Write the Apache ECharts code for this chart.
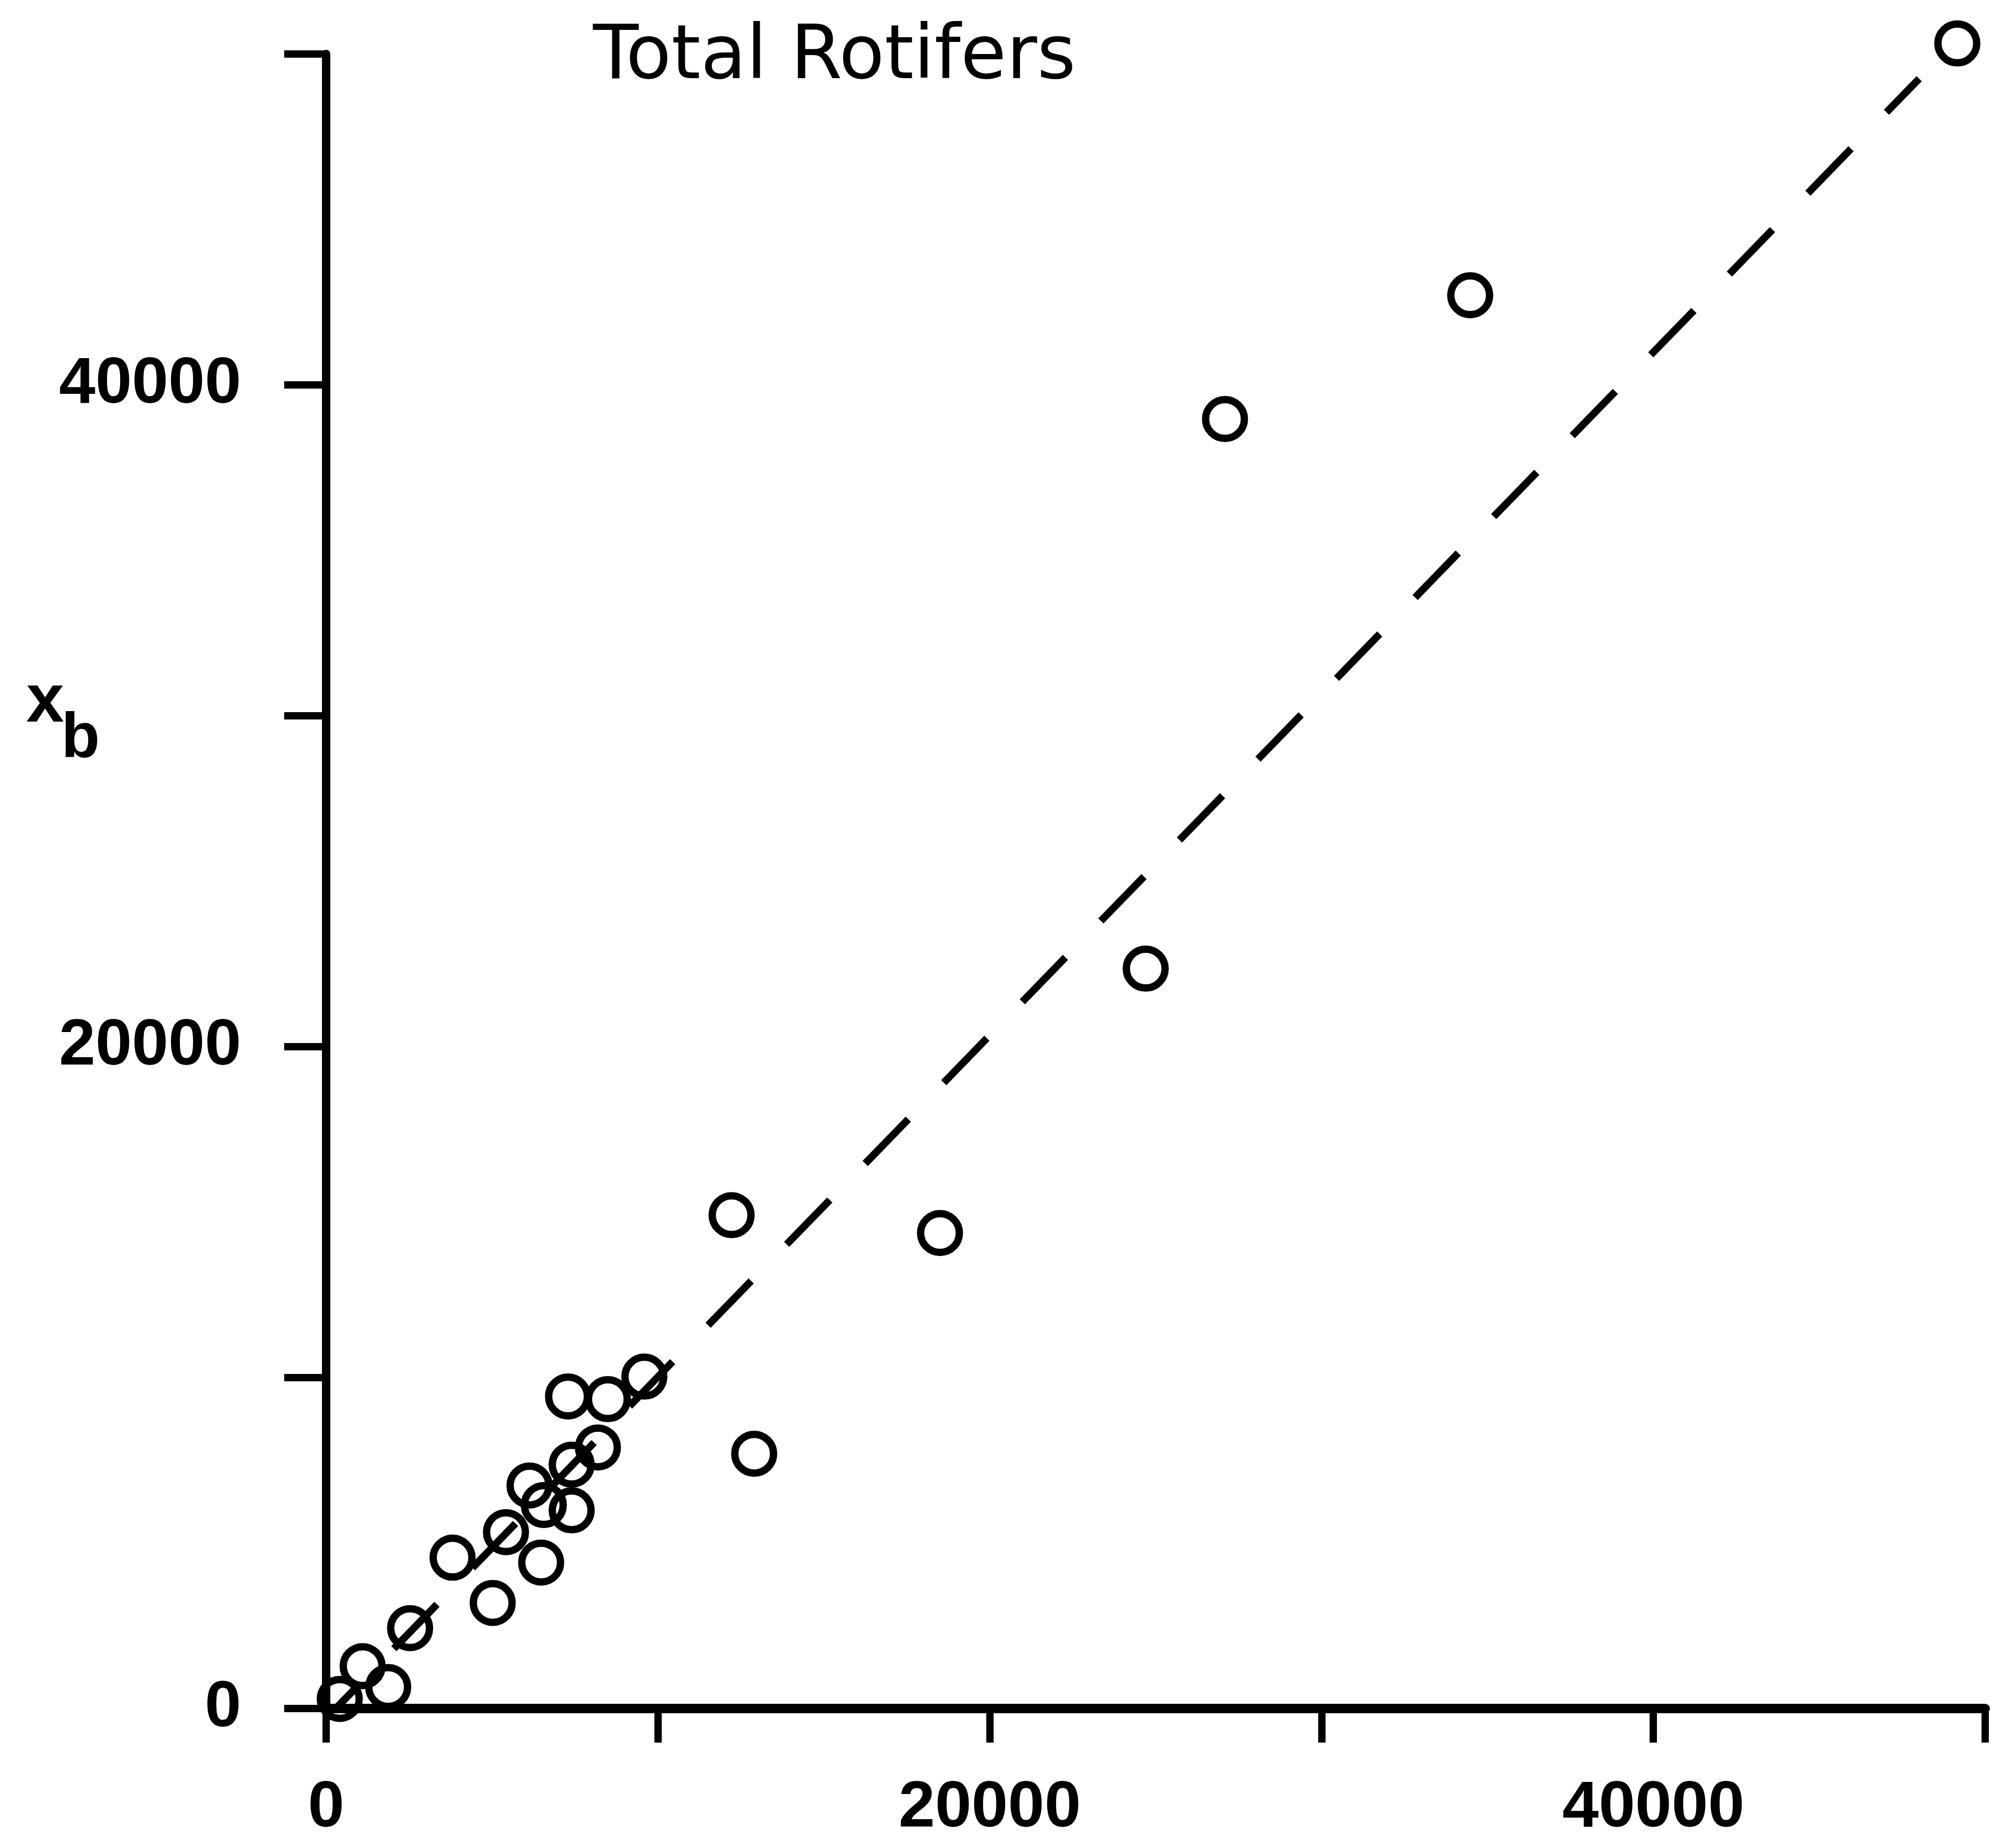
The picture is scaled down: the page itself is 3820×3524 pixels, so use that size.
<!DOCTYPE html>
<html>
<head>
<meta charset="utf-8">
<title>Total Rotifers</title>
<script src="https://cdn.jsdelivr.net/npm/echarts@6/dist/echarts.min.js"></script>
<style>
  html, body { margin: 0; padding: 0; background: #fff; }
  #chart { width: 3820px; height: 3524px; }
</style>
</head>
<body>
<div id="chart"></div>
<script>
  // values
  const xVals = [410, 1100, 1870, 2530, 3810, 5020, 5420, 6130, 6560, 6480, 7400, 7290,
    7400, 8190, 8490, 9590, 12220, 12900, 18500, 24700, 27090, 34480, 49160];
  const yVals = [290, 1280, 650, 2430, 4560, 3190, 5330, 6740, 6150, 4410, 5990, 9430,
    7370, 7890, 9350, 10030, 14910, 7700, 14370, 22360, 38970, 42710, 50320];

  // dashed fitted line, end points
  const fitX = [290, 48010];
  const fitY = [0, 49255];

  // labelled ticks
  const xTickLabels = [0, 20000, 40000];
  const yTickLabels = [0, 20000, 40000];

  const titleText = 'Total Rotifers';

  const chart = echarts.init(document.getElementById('chart'), null, { renderer: 'canvas' });

  const points = xVals.map((x, i) => [x, yVals[i]]);
  const fitLine = fitX.map((x, i) => [x, fitY[i]]);

  const tickFont = {
    color: '#000',
    fontFamily: 'Liberation Sans',
    fontWeight: 'bold',
    fontSize: 125
  };

  const axisCommon = {
    type: 'value',
    min: 0,
    max: 50000,
    interval: 10000,
    splitLine: { show: false }
  };

  const option = {
    backgroundColor: '#fff',
    animation: false,
    title: [
      {
        text: titleText,
        left: 1126,
        top: 36,
        textStyle: { color: '#000', fontFamily: 'DejaVu Sans', fontWeight: 'normal', fontSize: 142 }
      },
      {
        text: 'x',
        left: 45,
        top: 1270,
        textStyle: { color: '#000', fontFamily: 'Liberation Sans', fontWeight: 'bold', fontSize: 130 }
      },
      {
        text: 'b',
        left: 112,
        top: 1346,
        textStyle: { color: '#000', fontFamily: 'Liberation Sans', fontWeight: 'bold', fontSize: 120 }
      }
    ],
    grid: { left: 622, right: 34, top: 103, bottom: 266, containLabel: false },
    xAxis: Object.assign({}, axisCommon, {
      axisLine: { show: true, onZero: false, lineStyle: { color: '#000', width: 18 } },
      axisTick: { show: true, inside: false, length: 65, lineStyle: { color: '#000', width: 14 } },
      axisLabel: Object.assign({}, tickFont, {
        margin: 128,
        formatter: v => (xTickLabels.includes(v) ? String(v) : '')
      })
    }),
    yAxis: Object.assign({}, axisCommon, {
      axisLine: { show: true, onZero: false, lineStyle: { color: '#000', width: 16 } },
      axisTick: { show: true, inside: false, length: 80, lineStyle: { color: '#000', width: 14 } },
      axisLabel: Object.assign({}, tickFont, {
        margin: 162,
        formatter: v => (yTickLabels.includes(v) ? String(v) : '')
      })
    }),
    series: [
      {
        type: 'line',
        data: fitLine,
        symbol: 'none',
        silent: true,
        z: 1,
        lineStyle: { color: '#000', width: 14, type: [118, 97], dashOffset: 56, cap: 'butt' }
      },
      {
        type: 'scatter',
        data: points,
        symbol: 'circle',
        symbolSize: 74,
        clip: false,
        z: 2,
        itemStyle: { color: 'rgba(0,0,0,0)', borderColor: '#000', borderWidth: 14, opacity: 1 }
      }
    ]
  };

  chart.setOption(option);
</script>
</body>
</html>
